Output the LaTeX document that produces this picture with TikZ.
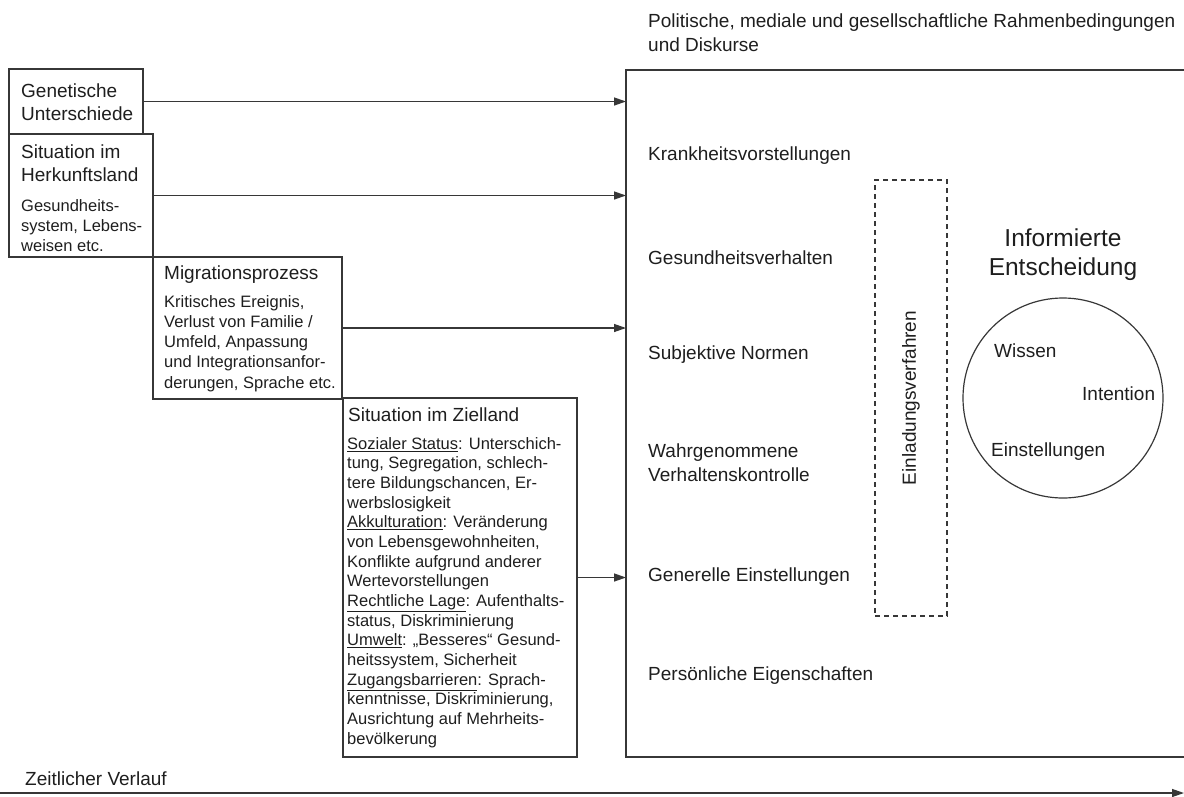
\documentclass[tikz,border=0pt]{standalone}
\usepackage{fontspec}
\setmainfont{Liberation Sans}
\usetikzlibrary{arrows.meta}
\definecolor{ln}{RGB}{55,55,55}
\definecolor{tx}{RGB}{30,30,30}
\tikzset{
  boxn/.style={draw=ln, line width=1.3pt, rectangle, inner sep=0pt, outer sep=0pt, anchor=north west},
  ttl/.style={anchor=north west, inner sep=0pt, align=left, text=tx, font=\fontsize{19}{22.5}\selectfont},
  bdy/.style={anchor=north west, inner sep=0pt, align=left, text=tx, font=\fontsize{16.5}{20}\selectfont},
  lbl/.style={anchor=base west, inner sep=0pt, text=tx, font=\fontsize{19}{23}\selectfont},
  arr/.style={draw=ln, line width=1.3pt, -{Triangle[length=12pt,width=8pt]}},
}
\begin{document}
\begin{tikzpicture}[x=1pt,y=-1pt]
\useasboundingbox (0,0) rectangle (1184,796);
% left boxes
\node[boxn, minimum width=134, minimum height=65] (gen) at (9,69) {};
\node[boxn, minimum width=144, minimum height=123] (herk) at (9,134) {};
\node[boxn, minimum width=189, minimum height=142] (migr) at (153,257) {};
\node[boxn, minimum width=234, minimum height=359] (ziel) at (343,398) {};
% big box
\node[boxn, minimum width=620, minimum height=687] (big) at (626,70) {};
% texts in left boxes
\node[ttl] (gent) at (21,84) {Genetische\\Unterschiede};
\node[ttl] (herkt) at (21,145) {Situation im\\Herkunftsland};
\node[bdy] (herkb) at (21,199) {Gesundheits-\\system, Lebens-\\weisen etc.};
\node[ttl] (migrt) at (164,266) {Migrationsprozess};
\node[bdy, font=\fontsize{16.5}{20.25}\selectfont] (migrb) at (164,295) {Kritisches Ereignis,\\Verlust von Familie /\\Umfeld, Anpassung\\und Integrationsanfor-\\derungen, Sprache etc.};
\node[ttl] (zielt) at (348,408) {Situation im Zielland};
\node[bdy, font=\fontsize{16.5}{19.67}\selectfont] (zielb) at (347,437) {\underline{Sozialer Status}: Unterschich-\\
tung, Segregation, schlech-\\
tere Bildungschancen, Er-\\
werbslosigkeit\\
\underline{Akkulturation}: Veränderung\\
von Lebensgewohnheiten,\\
Konflikte aufgrund anderer\\
Wertevorstellungen\\
\underline{Rechtliche Lage}: Aufenthalts-\\
status, Diskriminierung\\
\underline{Umwelt}: „Besseres“ Gesund-\\
heitssystem, Sicherheit\\
\underline{Zugangsbarrieren}: Sprach-\\
kenntnisse, Diskriminierung,\\
Ausrichtung auf Mehrheits-\\
bevölkerung};
% arrows
\draw[arr] (gen.east) -- (gen.east -| big.west);
\draw[arr] (herk.east) -- (herk.east -| big.west);
\draw[arr] (migr.east) -- (migr.east -| big.west);
\draw[arr] (ziel.east) -- (ziel.east -| big.west);
% top text
\node[ttl, font=\fontsize{19}{24}\selectfont] (rahmen) at (648,14) {Politische, mediale und gesellschaftliche Rahmenbedingungen\\und Diskurse};
% big box labels
\node[lbl] (l1) at (648,160) {Krankheitsvorstellungen};
\node[lbl] (l2) at (648,264) {Gesundheitsverhalten};
\node[lbl] (l3) at (648,359) {Subjektive Normen};
\node[lbl] (l4) at (648,457) {Wahrgenommene};
\node[lbl] (l4b) at (648,481) {Verhaltenskontrolle};
\node[lbl] (l5) at (648,581) {Generelle Einstellungen};
\node[lbl] (l6) at (648,680) {Persönliche Eigenschaften};
% dashed box
\node[boxn, line width=1.1pt, dash pattern=on 5pt off 4pt, minimum width=72, minimum height=436] (einbox) at (875,180) {};
\node[rotate=90, inner sep=0pt, text=tx, font=\fontsize{19}{23}\selectfont] (einl) at (einbox.center) {Einladungsverfahren};
% informed decision
\node[anchor=north, inner sep=0pt, align=center, text=tx, font=\fontsize{24.5}{29}\selectfont] (inf) at (1063,229) {Informierte\\Entscheidung};
\node[circle, draw=ln, line width=1.2pt, minimum size=200pt, inner sep=0pt] (circ) at (1063,398) {};
\node[lbl] (wis) at (994,357) {Wissen};
\node[lbl] (int) at (1082,400) {Intention};
\node[lbl] (einst) at (991,456) {Einstellungen};
% timeline
\node[lbl] (zeit) at (25,785) {Zeitlicher Verlauf};
\coordinate (t0) at (0,793);
\coordinate (t1) at (1184,793);
\draw[arr] (t0) -- (t1);
\end{tikzpicture}
\end{document}
